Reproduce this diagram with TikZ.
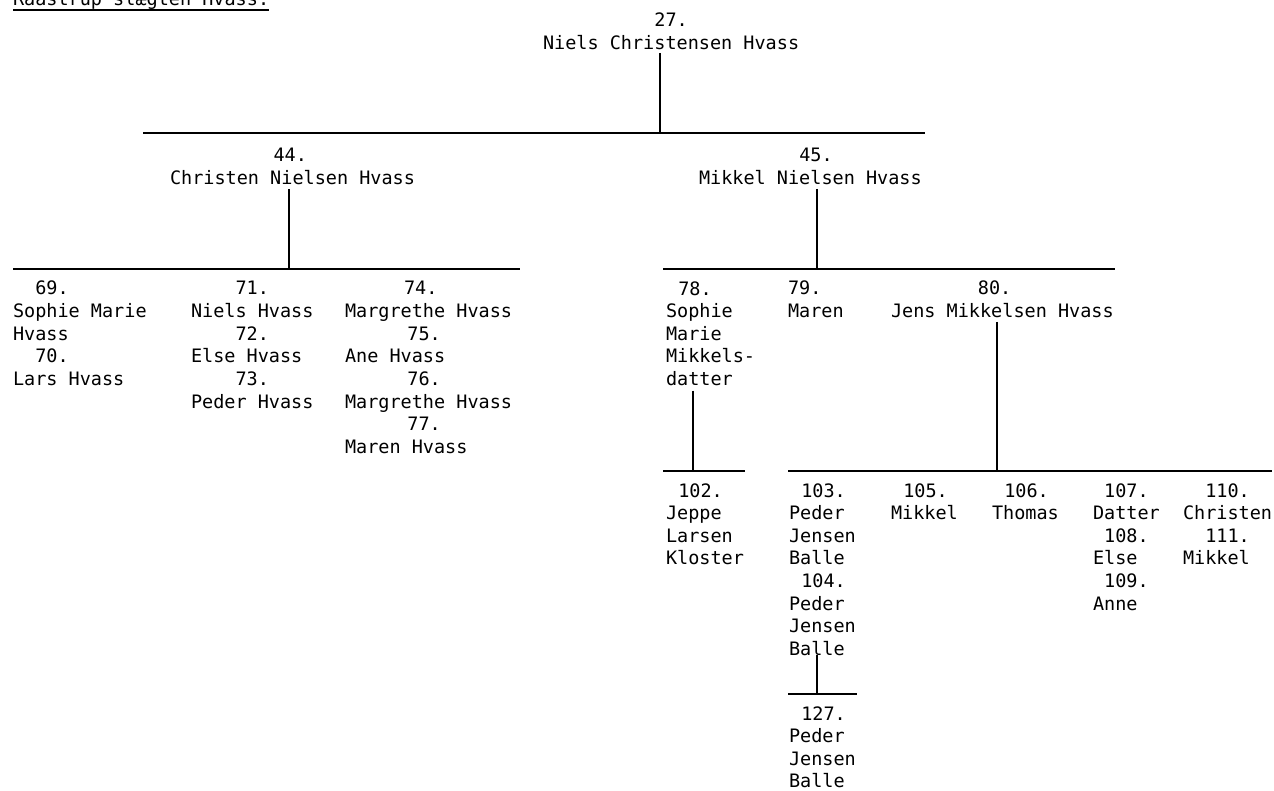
\documentclass[tikz,border=0pt]{standalone}
\usepackage{fontspec}
\newfontfamily\tyfont{DejaVu Sans Mono}
\usetikzlibrary{positioning, calc}
\newlength\chw
\setlength\chw{11.14pt}
\newcommand\ind[1]{\hspace*{#1\chw}}

\begin{document}
\begin{tikzpicture}[x=1pt, y=-1pt,
  person/.style={inner sep=0pt, outer sep=0pt, anchor=base west, align=left,
                 font=\tyfont\fontsize{18.5}{22.6}\selectfont},
  bar/.style={line width=1.5pt},
  link/.style={line width=1.5pt},
]
\useasboundingbox (0,0) rectangle (1274,791);

% Title
\node[person] (title) at (13,6) {Raastrup slægten Hvass:};
\draw[bar] ([yshift=-4pt]title.base west) -- ([yshift=-4pt]title.base east);

% Generation 1 (nodes sit on the baseline of their last line)
\node[person] (n27) at (543,49.6) {\ind{10}27.\\Niels Christensen Hvass};

% Generation 2
\node[person] (n44) at (170,184.6) {\ind{9.3}44.\\Christen Nielsen Hvass};
\node[person] (n45) at (699,184.6) {\ind{9}45.\\Mikkel Nielsen Hvass};

% Generation 3 - children of 44
\node[person] (n69) at (13,340.2) {\ind{2}69.\\Sophie Marie\\Hvass};
\node[person] (n70) at (13,385.4) {\ind{2}70.\\Lars Hvass};
\node[person] (n71) at (191,317.6) {\ind{4}71.\\Niels Hvass};
\node[person] (n72) at (191,362.8) {\ind{4}72.\\Else Hvass};
\node[person] (n73) at (191,408) {\ind{4}73.\\Peder Hvass};
\node[person] (n74) at (345,317.6) {\ind{5.3}74.\\Margrethe Hvass};
\node[person] (n75) at (345,362.8) {\ind{5.6}75.\\Ane Hvass};
\node[person] (n76) at (345,408) {\ind{5.6}76.\\Margrethe Hvass};
\node[person] (n77) at (345,453.2) {\ind{5.6}77.\\Maren Hvass};

% Generation 3 - children of 45
\node[person] (n78) at (666,385.4) {\ind{1.1}78.\\Sophie\\Marie\\Mikkels-\\datter};
\node[person] (n79) at (788,317.6) {79.\\Maren};
\node[person] (n80) at (891,317.6) {\ind{7.8}80.\\Jens Mikkelsen Hvass};

% Generation 4
\node[person] (n102) at (666,564.8) {\ind{1.1}102.\\Jeppe\\Larsen\\Kloster};
\node[person] (n103) at (789,564.8) {\ind{1.1}103.\\Peder\\Jensen\\Balle};
\node[person] (n104) at (789,655.2) {\ind{1.1}104.\\Peder\\Jensen\\Balle};
\node[person] (n105) at (891,519.6) {\ind{1.1}105.\\Mikkel};
\node[person] (n106) at (992,519.6) {\ind{1.1}106.\\Thomas};
\node[person] (n107) at (1093,519.6) {\ind{1}107.\\Datter};
\node[person] (n108) at (1093,564.8) {\ind{1}108.\\Else};
\node[person] (n109) at (1093,610) {\ind{1}109.\\Anne};
\node[person] (n110) at (1183,519.6) {\ind{2}110.\\Christen};
\node[person] (n111) at (1183,564.8) {\ind{2}111.\\Mikkel};

% Generation 5
\node[person] (n127) at (789,787.8) {\ind{1.1}127.\\Peder\\Jensen\\Balle};

% Sibling bars
\coordinate (j27) at (660,133);
\coordinate (j44) at (289,269);
\coordinate (j45) at (817,269);
\coordinate (j78) at (693,471);
\coordinate (j80) at (997,471);
\coordinate (j104) at (817,694);
\draw[bar] (143,133) coordinate (b27w) -- (925,133) coordinate (b27e);
\draw[bar] (13,269) coordinate (b44w) -- (520,269) coordinate (b44e);
\draw[bar] (663,269) coordinate (b45w) -- (1115,269) coordinate (b45e);
\draw[bar] (663,471) coordinate (b78w) -- (745,471) coordinate (b78e);
\draw[bar] (788,471) coordinate (b80w) -- (1272,471) coordinate (b80e);
\draw[bar] (788,694) coordinate (b104w) -- (857,694) coordinate (b104e);

% Parent links
\draw[link] ([yshift=-3pt]n27.south -| j27) -- (j27);
\draw[link] ([yshift=-4pt]n44.south -| j44) -- (j44);
\draw[link] ([yshift=-4pt]n45.south -| j45) -- (j45);
\draw[link] ([yshift=-5pt]n78.south -| j78) -- (j78);
\draw[link] ([yshift=-4pt]n80.south -| j80) -- (j80);
\draw[link] (n104.south -| j104) -- (j104);

\end{tikzpicture}
\end{document}
